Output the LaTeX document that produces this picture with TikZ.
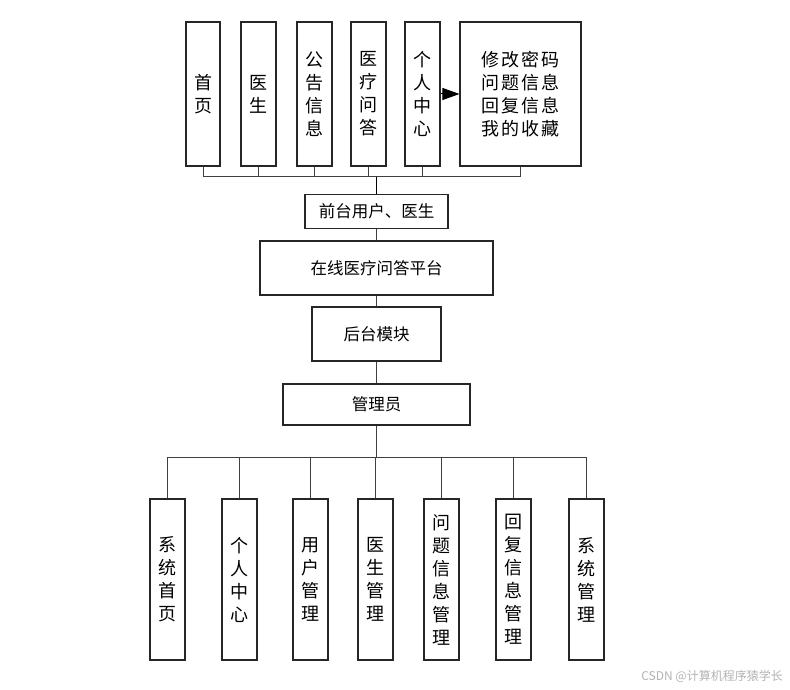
\documentclass[tikz,border=0pt]{standalone}
\usepackage{fontspec}
\setmainfont{Noto Sans CJK SC}
\usetikzlibrary{arrows.meta}
\tikzset{
  box/.style={draw=black!85, line width=1.1pt, fill=white, inner sep=0pt, align=center, anchor=center},
  vbox/.style={box, font=\fontsize{18}{23}\selectfont},
  hbox/.style={box, font=\fontsize{16.5}{20}\selectfont},
  conn/.style={draw=black!75, line width=1pt},
  mainconn/.style={draw=black, line width=1.6pt}
}
\begin{document}
\begin{tikzpicture}[x=1pt,y=-1pt]
\useasboundingbox (0,0) rectangle (790,690);
% top row
\node[vbox, minimum width=34pt, minimum height=144pt] (t1) at (203,94) {首\\页};
\node[vbox, minimum width=35pt, minimum height=144pt] (t2) at (258.5,94) {医\\生};
\node[vbox, minimum width=35pt, minimum height=144pt] (t3) at (314.5,94) {公\\告\\信\\息};
\node[vbox, minimum width=35pt, minimum height=144pt] (t4) at (368.5,94) {医\\疗\\问\\答};
\node[vbox, minimum width=35pt, minimum height=144pt] (t5) at (422.5,94) {个\\人\\中\\心};
\node[vbox, minimum width=121pt, minimum height=144pt, font=\fontsize{18}{23}\selectfont\addfontfeature{LetterSpace=12}] (t6) at (520.5,94) {修改密码\\问题信息\\回复信息\\我的收藏};
\draw[line width=1pt, -{Triangle[length=17pt,width=12pt]}] (t5.east) -- (t6.west);
% top bus
\coordinate (tj) at (376.5,177);
\foreach \n in {t1,t2,t3,t4,t5,t6} { \draw[conn] (\n.south) |- (tj); }
% middle chain
\node[hbox, minimum width=143pt, minimum height=34pt] (fe) at (376.5,211.5) {前台用户、医生};
\node[hbox, minimum width=233pt, minimum height=54pt] (plat) at (376.5,268) {在线医疗问答平台};
\node[hbox, minimum width=129pt, minimum height=54pt] (back) at (376.5,334) {后台模块};
\node[hbox, minimum width=187pt, minimum height=41pt] (admin) at (376.5,404.5) {管理员};
\draw[mainconn] (tj) -- (fe.north);
\draw[conn] (fe.south) -- (plat.north);
\draw[conn] (plat.south) -- (back.north);
\draw[conn] (back.south) -- (admin.north);
% bottom row
\node[vbox, minimum width=35pt, minimum height=161pt] (b1) at (167.5,579.5) {系\\统\\首\\页};
\node[vbox, minimum width=35pt, minimum height=161pt] (b2) at (239.5,579.5) {个\\人\\中\\心};
\node[vbox, minimum width=35pt, minimum height=161pt] (b3) at (310.5,579.5) {用\\户\\管\\理};
\node[vbox, minimum width=35pt, minimum height=161pt] (b4) at (375.5,579.5) {医\\生\\管\\理};
\node[vbox, minimum width=35pt, minimum height=161pt] (b5) at (441.5,579.5) {问\\题\\信\\息\\管\\理};
\node[vbox, minimum width=35pt, minimum height=161pt] (b6) at (513.5,579.5) {回\\复\\信\\息\\管\\理};
\node[vbox, minimum width=35pt, minimum height=161pt] (b7) at (586.5,579.5) {系\\统\\管\\理};
\coordinate (bj) at (376.5,457);
\draw[conn] (admin.south) -- (bj);
\foreach \n in {b1,b2,b3,b4,b5,b6,b7} { \draw[conn] (bj) -| (\n.north); }
% watermark
\node[anchor=east, text=black!30, font=\fontsize{12}{14}\selectfont, inner sep=0pt] (wm) at (783,676) {CSDN @计算机程序猿学长};
\end{tikzpicture}
\end{document}
